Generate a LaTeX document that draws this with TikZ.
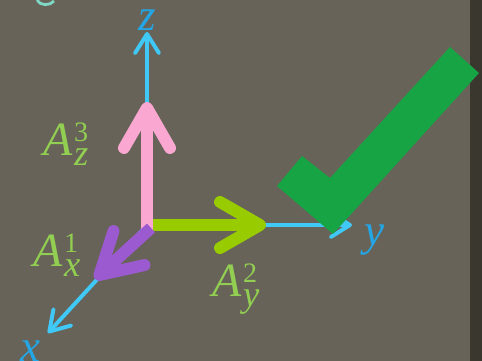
\documentclass[tikz,border=0pt]{standalone}
\usepackage{fontspec}
\usepackage{xcolor}
\usepackage{tikz}
\usetikzlibrary{arrows.meta}
\newfontfamily\lblfont{Liberation Serif}
\definecolor{board}{RGB}{103,99,88}
\definecolor{boardedge}{RGB}{58,55,47}
\definecolor{axisblue}{RGB}{64,200,246}
\definecolor{axistext}{RGB}{36,166,230}
\definecolor{vecpink}{RGB}{250,168,210}
\definecolor{vecgreen}{RGB}{153,204,0}
\definecolor{vecpurple}{RGB}{156,90,208}
\definecolor{lblgreen}{RGB}{146,206,82}
\definecolor{tick}{RGB}{22,164,68}
\definecolor{scrap}{RGB}{128,216,196}
% component label: letter, subscript, superscript
\newcommand{\complab}[3]{{\itshape #1}\kern1pt%
  \rlap{\raisebox{10pt}{\fontsize{20}{20}\selectfont #3}}%
  \raisebox{-7pt}{\fontsize{26}{26}\selectfont\itshape #2}}

\begin{document}
\begin{tikzpicture}[
  x=0.25mm, y=-0.25mm,
  axis/.style={draw=axisblue, line width=2.8pt,
               -{Straight Barb[length=4.8mm, width=6mm, round]}},
  vec/.style={line width=8.5pt,
              -{Straight Barb[length=10mm, width=11.5mm, round]}},
  axlbl/.style={text=axistext, font=\lblfont\itshape\fontsize{32}{36}\selectfont,
                inner sep=0pt},
  lbl/.style={text=lblgreen, font=\lblfont\fontsize{34}{38}\selectfont, inner sep=0pt}
]

%% Board
\fill[board] (0,0) rectangle (482,361);
\fill[boardedge] (470,0) rectangle (482,361);
\useasboundingbox (0,0) rectangle (482,361);
\draw[scrap, line width=2pt] (37,0) .. controls (40,6) and (50,6) .. (54,1);

%% Origin and axis ends
\coordinate (orig) at (147,225);
\coordinate (xtip) at (48,333);
\coordinate (ytip) at (352,225);
\coordinate (ztip) at (147,32);

%% Axes
\draw[axis] (orig) -- (xtip);
\draw[axis] (orig) -- (ytip);
\draw[axis] (orig) -- (ztip);

\node[axlbl] (xlab) at (30,351) {x};
\node[axlbl] (ylab) at (374,240) {y};
\node[axlbl] (zlab) at (147,20)  {z};

%% Components
\coordinate (zbase) at (147,232);
\coordinate (zend)  at (147,102);
\coordinate (ybase) at (153,225);
\coordinate (yend)  at (266,225);
\coordinate (xbase) at (151,228);
\coordinate (xend)  at (95,279);

\draw[vec, vecpink]   (zbase) -- (zend);
\draw[vec, vecgreen]  (ybase) -- (yend);
\draw[vec, vecpurple] (xbase) -- (xend);

\node[lbl] (azlab) at (66,144)  {\complab{A}{z}{3}};
\node[lbl] (axlab) at (57,255)  {\complab{A}{x}{1}};
\node[lbl] (aylab) at (236,289) {\complab{A}{y}{2}};

%% Check mark
\fill[tick] (277,186) -- (302,156) -- (330,178) -- (450,47)
  -- (479,73) -- (333,234) -- cycle;

\end{tikzpicture}
\end{document}
